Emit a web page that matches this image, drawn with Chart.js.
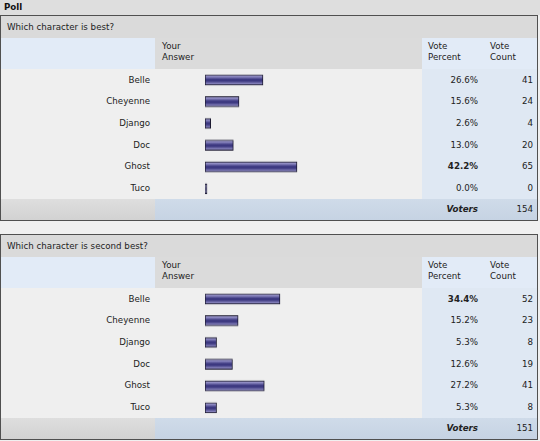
<!DOCTYPE html>
<html>
<head>
<meta charset="utf-8">
<script src="https://cdn.jsdelivr.net/npm/chart.js@4.4.0/dist/chart.umd.min.js"></script>
<style>
body { margin:0; width:540px; height:441px; overflow:hidden; background:#f0f0f0; position:relative;
       font-family:"DejaVu Sans", Verdana, sans-serif; font-size:8.7px; color:#222; }
#head { position:absolute; left:0; top:0; width:540px; height:15px; background:#dedede; font-weight:bold;
        line-height:15px; padding-left:4px; box-sizing:border-box; color:#111; }
.poll { position:absolute; left:0; width:538px; height:206px; border:1px solid #505050; background:#efefef; box-sizing:border-box; }
.cell { position:absolute; box-sizing:border-box; display:flex; align-items:center; white-space:nowrap; }
.right { justify-content:flex-end; }
.hdr { align-items:flex-start; padding-top:3px; line-height:11px; white-space:normal; }
.title { background:#dadada; padding-left:6px; }
.blue { background:#e2ebf7; }
.bluebody { background:#dfe8f3; }
.gray { background:#dbdbdb; }
.footl { background:linear-gradient(to bottom, #dedede, #d2d2d2); }
.footr { background:linear-gradient(to bottom, #cfdbe9, #c6d3e3); }
.bold { font-weight:bold; }
.voters { font-weight:bold; font-style:italic; }
.chartbox { position:absolute; }
</style>
</head>
<body>
<div id="head">Poll</div>
<div class="poll" id="poll1" style="top:15px"></div>
<div class="poll" id="poll2" style="top:234px"></div>

<script>
// answers, same for both polls
const answers = ["Belle", "Cheyenne", "Django", "Doc", "Ghost", "Tuco"];

// poll 1: which character is best
const question1 = "Which character is best?";
const percent1 = [26.6, 15.6, 2.6, 13.0, 42.2, 0.0];
const count1 = [41, 24, 4, 20, 65, 0];
const voters1 = 154;

// poll 2: which character is second best
const question2 = "Which character is second best?";
const percent2 = [34.4, 15.2, 5.3, 12.6, 27.2, 5.3];
const count2 = [52, 23, 8, 19, 41, 8];
const voters2 = 151;

const ROW_TOP = 53;
const ROW_H = 21.6;

function addCell(parent, cls, left, top, width, height, html) {
    let d = document.createElement("div");
    d.className = "cell " + cls;
    d.style.left = left + "px";
    d.style.top = top + "px";
    d.style.width = width + "px";
    d.style.height = height + "px";
    if (html !== undefined) d.innerHTML = html;
    parent.appendChild(d);
    return d;
}

// light stripe on top, dark middle, lighter bottom, like the old poll bar image
function barFill(context) {
    const chart = context.chart;
    const y = chart.scales ? chart.scales.y : null;
    if (!y || context.dataIndex === undefined) return "#46428a";
    const mid = y.getPixelForValue(context.dataIndex);
    if (!isFinite(mid)) return "#46428a";
    const g = chart.ctx.createLinearGradient(0, mid - 5, 0, mid + 5);
    g.addColorStop(0, "#b4b0dc");
    g.addColorStop(0.2, "#8581bc");
    g.addColorStop(0.45, "#3c3880");
    g.addColorStop(0.6, "#3c3880");
    g.addColorStop(0.85, "#7d79b4");
    g.addColorStop(1, "#a9a5d4");
    return g;
}

function buildPoll(el, question, percents, counts, voters) {
    addCell(el, "title", 0, 0, 536, 22, question);

    // header row
    addCell(el, "blue", 0, 22, 154, 31);
    addCell(el, "gray hdr", 154, 22, 267, 31, "Your<br>Answer").style.paddingLeft = "7px";
    addCell(el, "blue hdr", 421, 22, 63, 31, "Vote<br>Percent").style.paddingLeft = "6px";
    addCell(el, "blue hdr", 484, 22, 52, 31, "Vote<br>Count").style.paddingLeft = "5px";

    // body
    addCell(el, "bluebody", 421, ROW_TOP, 115, ROW_H * answers.length);
    let maxIdx = counts.indexOf(Math.max(...counts));
    for (let i = 0; i < answers.length; i++) {
        let top = ROW_TOP + i * ROW_H;
        addCell(el, "right", 0, top, 149, ROW_H, answers[i]);
        addCell(el, "right" + (i === maxIdx ? " bold" : ""), 421, top, 56, ROW_H, percents[i].toFixed(1) + "%");
        addCell(el, "right", 484, top, 48, ROW_H, counts[i]);
    }

    // footer
    let footTop = ROW_TOP + ROW_H * answers.length;
    let footH = 204 - footTop;
    addCell(el, "footl", 0, footTop, 154, footH);
    addCell(el, "footr", 154, footTop, 382, footH);
    addCell(el, "right voters", 421, footTop, 56, footH, "Voters");
    addCell(el, "right", 484, footTop, 48, footH, voters);

    // bars
    let box = document.createElement("div");
    box.className = "chartbox";
    box.style.left = "204px";
    box.style.top = ROW_TOP + "px";
    box.style.width = "218px";
    box.style.height = (ROW_H * answers.length) + "px";
    let canvas = document.createElement("canvas");
    box.appendChild(canvas);
    el.appendChild(box);

    new Chart(canvas, {
        type: 'bar',
        data: {
            labels: answers,
            datasets: [{
                data: percents,
                backgroundColor: barFill,
                borderColor: '#1c1a30',
                borderWidth: 1,
                borderSkipped: false,
                barThickness: 10,
                minBarLength: 2
            }]
        },
        options: {
            indexAxis: 'y',
            responsive: true,
            maintainAspectRatio: false,
            animation: false,
            layout: { padding: 0 },
            plugins: { legend: { display: false }, tooltip: { enabled: false } },
            scales: {
                x: { display: false, min: 0, max: 100 },
                y: { display: false }
            }
        }
    });
}

buildPoll(document.getElementById("poll1"), question1, percent1, count1, voters1);
buildPoll(document.getElementById("poll2"), question2, percent2, count2, voters2);
</script>
</body>
</html>
